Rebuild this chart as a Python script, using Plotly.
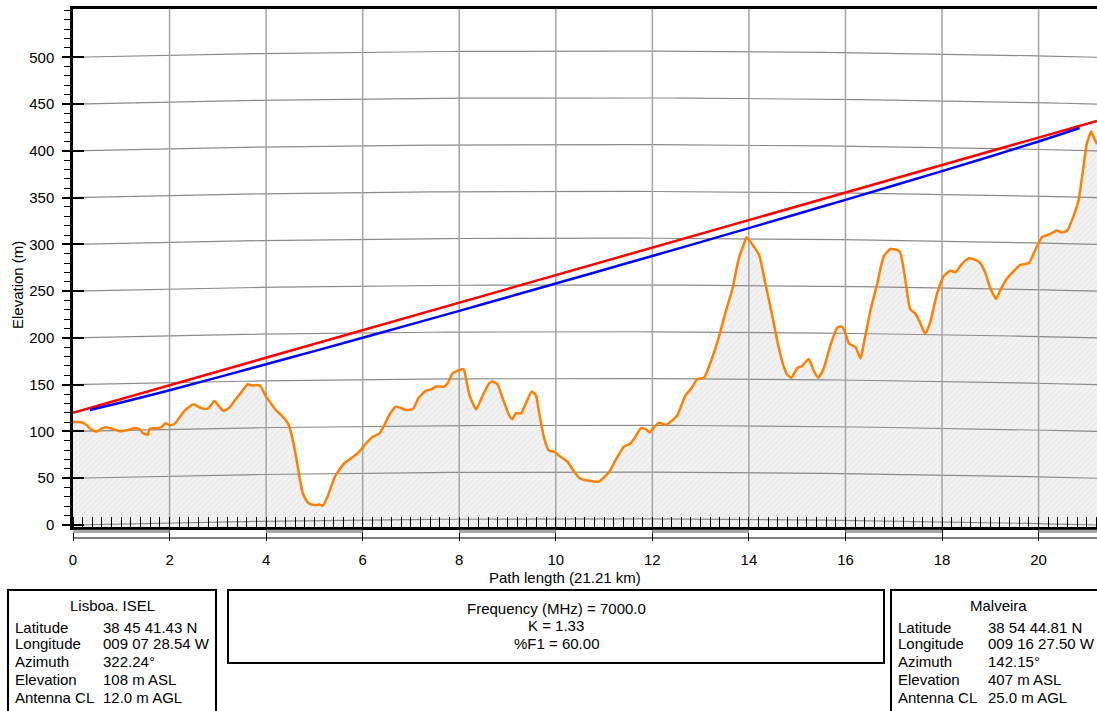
import plotly.graph_objects as go

# ---------------- data ----------------
dist_km = [0, 0.17, 0.28, 0.38, 0.49, 0.59, 0.69, 0.83, 0.97, 1.14, 1.28, 1.38, 1.45, 1.55, 1.59,
           1.73, 1.83, 1.92, 2.0, 2.10, 2.17, 2.31, 2.41, 2.50, 2.59, 2.69, 2.79, 2.86, 2.93, 3.03,
           3.12, 3.24, 3.35, 3.48, 3.62, 3.71, 3.79, 3.88, 4.0, 4.10, 4.21, 4.31, 4.45, 4.52, 4.62,
           4.69, 4.76, 4.85, 4.93, 5.03, 5.10, 5.17, 5.27, 5.41, 5.49, 5.62, 5.76, 5.93, 6.07, 6.21,
           6.35, 6.45, 6.55, 6.69, 6.80, 6.90, 7.04, 7.16, 7.31, 7.42, 7.52, 7.69, 7.76, 7.86, 7.97,
           8.07, 8.10, 8.21, 8.35, 8.49, 8.62, 8.69, 8.79, 8.90, 9.03, 9.10, 9.17, 9.28, 9.38, 9.50,
           9.59, 9.65, 9.76, 9.86, 9.96, 10.07, 10.24, 10.38, 10.48, 10.62, 10.73, 10.89, 11.10, 11.24,
           11.41, 11.55, 11.65, 11.76, 11.85, 11.95, 12.04, 12.14, 12.28, 12.38, 12.52, 12.69, 12.81,
           12.93, 13.07, 13.21, 13.35, 13.52, 13.66, 13.79, 13.90, 13.95, 14.07, 14.21, 14.34, 14.48,
           14.59, 14.69, 14.79, 14.88, 15.0, 15.10, 15.24, 15.35, 15.44, 15.55, 15.69, 15.83, 15.93,
           16.0, 16.07, 16.21, 16.31, 16.38, 16.52, 16.66, 16.79, 16.93, 17.07, 17.14, 17.24, 17.34,
           17.45, 17.55, 17.65, 17.75, 17.89, 18.03, 18.17, 18.28, 18.41, 18.55, 18.69, 18.79, 18.90,
           19.00, 19.12, 19.21, 19.35, 19.49, 19.62, 19.80, 19.93, 20.07, 20.24, 20.38, 20.48, 20.59,
           20.72, 20.83, 20.92, 21.00, 21.09, 21.15, 21.21]
terrain_m = [110, 110, 107, 102, 100, 103, 104.5, 102.7, 100.2, 101.6, 103.7, 102.3, 98, 96.6, 103,
             103.4, 104.5, 108.8, 106.6, 108, 112.3, 122.2, 126.5, 129, 126.5, 124.4, 124.4, 128.3, 132.6, 126.5,
             122, 125.5, 133, 141.5, 150.5, 149, 149.7, 148.7, 137.2, 130, 122.2, 117.6, 108.8, 98, 73,
             51.7, 33.9, 25, 22, 21.4, 22, 20.6, 30, 50, 57, 66, 71.3, 78.4, 87.4, 94.4,
             98, 107, 117.6, 126.5, 124.8, 123, 124, 136, 143.6, 145, 148, 148, 151.5, 162, 165,
             166.8, 165.8, 139, 123.7, 139, 151.5, 153.3, 150.5, 135.5, 117.6, 113, 119.4, 119.4, 130, 142.6,
             138.3, 121.2, 92.7, 79.5, 78.4, 74, 67.7, 57, 50.6, 47.8, 47, 46.3, 56.3, 69.5,
             83.7, 87.4, 94.4, 103.4, 102.7, 99, 105, 109.4, 107, 110.5, 117.6, 139, 146.2,
             156, 157.5, 174.7, 196, 228, 253, 285, 301, 307.7, 300, 288.8, 258.5, 224.6,
             196, 174.7, 161, 157.5, 167.6, 170, 177.5, 164, 157.5, 167.6, 192.5, 211, 212,
             205, 194, 190, 178, 194, 230, 258.5, 287, 295, 294, 290.6, 262, 230.7,
             225.7, 215.7, 204.3, 215.7, 246, 265.6, 271.7, 270.3, 279, 285, 283.4, 280, 269,
             253, 241.7, 251.3, 263.8, 271.7, 278, 280, 294, 307.7, 311.2, 314.8, 312.6, 314.8,
             329.7, 347.6, 379.7, 408, 420.6, 413.6, 407]

# line of sight (red) between the antennas
los_km = [0, 21.21]
los_m = [120, 432]

# 60 % first Fresnel zone clearance line (blue)
fz_km = [0.35, 1, 2, 3, 4, 5, 6, 7, 8, 9, 10, 10.6, 11, 12, 13, 14, 15, 16, 17, 18, 19, 20, 20.85]
fz_m = [122.9, 130.9, 144.1, 157.8, 171.8, 185.9, 200.1, 214.5, 228.9, 243.5, 258.1, 266.9, 272.8,
        287.6, 302.4, 317.4, 332.4, 347.6, 362.9, 378.3, 394.0, 410.0, 424.4]

path_len = 21.21
k_factor = 1.33
grid_levels = [0, 50, 100, 150, 200, 250, 300, 350, 400, 450, 500]
y_ticks = [0, 50, 100, 150, 200, 250, 300, 350, 400, 450, 500]
x_ticks = [0, 2, 4, 6, 8, 10, 12, 14, 16, 18, 20]

site_a = ["Lisboa. ISEL", ["Latitude", "Longitude", "Azimuth", "Elevation", "Antenna CL"],
          ["38 45 41.43 N", "009 07 28.54 W", "322.24°", "108 m ASL", "12.0 m AGL"]]
site_b = ["Malveira", ["Latitude", "Longitude", "Azimuth", "Elevation", "Antenna CL"],
          ["38 54 44.81 N", "009 16 27.50 W", "142.15°", "407 m ASL", "25.0 m AGL"]]
link_info = ["Frequency (MHz) = 7000.0", "K = 1.33", "%F1 = 60.00"]

# ---------------- layout geometry ----------------
FW, FH = 1097, 711
ML, MR, MT, MB = 73, 0, 9, 184
PW = FW - ML - MR
PH = FH - MT - MB
PBOT = FH - MB
YMIN, YMAX = -2.14, 551.6
FONT = "Liberation Sans, Arial, sans-serif"


def px(xp):
    return (xp - ML) / PW


def py(yp):
    return (PBOT - yp) / PH


fig = go.Figure()

# baseline for the terrain fill
fig.add_trace(go.Scatter(x=[0, path_len], y=[YMIN, YMIN], mode="lines",
                         line=dict(width=0, color="rgba(0,0,0,0)"), hoverinfo="skip", showlegend=False))
# terrain fill
fig.add_trace(go.Scatter(x=dist_km, y=terrain_m, mode="lines", line=dict(width=0, shape="spline", smoothing=0.5),
                         fill="tonexty", fillcolor="#f1f1f1",
                         fillpattern=dict(shape="/", bgcolor="#f3f3f3", fgcolor="#dcdcdc", size=4, solidity=0.3),
                         hoverinfo="skip", showlegend=False))

# curved (earth-bulge) horizontal grid lines
n = 60
gx, gy = [], []
for g in grid_levels:
    for i in range(n + 1):
        d = path_len * i / n
        gx.append(d)
        gy.append(g + d * (path_len - d) / (2 * k_factor * 6.371))
    gx.append(None)
    gy.append(None)
fig.add_trace(go.Scatter(x=gx, y=gy, mode="lines", line=dict(color="#8a8a8a", width=1.2),
                         hoverinfo="skip", showlegend=False))
# vertical grid lines
vx, vy = [], []
for t in x_ticks[1:]:
    vx += [t, t, None]
    vy += [YMIN, YMAX, None]
fig.add_trace(go.Scatter(x=vx, y=vy, mode="lines", line=dict(color="#a5a5a5", width=1.5),
                         hoverinfo="skip", showlegend=False))

fig.add_trace(go.Scatter(x=los_km, y=los_m, mode="lines", line=dict(color="#ff0000", width=2.5),
                         showlegend=False))
fig.add_trace(go.Scatter(x=fz_km, y=fz_m, mode="lines", line=dict(color="#0000ff", width=2.5, shape="spline"),
                         showlegend=False))
fig.add_trace(go.Scatter(x=dist_km, y=terrain_m, mode="lines",
                         line=dict(color="#ff8000", width=2.5, shape="spline", smoothing=0.5),
                         showlegend=False))
# dummy trace for the inner-tick axis
fig.add_trace(go.Scatter(x=[0], y=[YMIN], mode="markers", marker=dict(size=0.1, opacity=0),
                         yaxis="y2", hoverinfo="skip", showlegend=False))

shapes = []
# scale bar below the x axis
y_bar_bot = py(538)
shapes.append(dict(type="line", xref="x", yref="paper", x0=0, x1=path_len, y0=y_bar_bot, y1=y_bar_bot,
                   line=dict(color="black", width=1.2)))
for s in range(0, 22, 4):
    shapes.append(dict(type="rect", xref="x", yref="paper", x0=s, x1=min(s + 2, path_len),
                       y0=py(533), y1=py(529.8), fillcolor="#a8a8a8", line=dict(width=0)))

# info boxes
box_line = dict(color="black", width=2)
shapes.append(dict(type="rect", xref="paper", yref="paper", x0=px(8), x1=px(216), y0=py(590), y1=py(720),
                   line=box_line, fillcolor="rgba(0,0,0,0)"))
shapes.append(dict(type="rect", xref="paper", yref="paper", x0=px(228), x1=px(884), y0=py(590), y1=py(663),
                   line=box_line, fillcolor="rgba(0,0,0,0)"))
shapes.append(dict(type="rect", xref="paper", yref="paper", x0=px(891), x1=px(1110), y0=py(590), y1=py(720),
                   line=box_line, fillcolor="rgba(0,0,0,0)"))

ann = []
tf = dict(family=FONT, size=15, color="black")


def add_text(text, x, y, anchor="left", angle=0):
    ann.append(dict(text=text, xref="paper", yref="paper", x=px(x), y=py(y), xanchor=anchor,
                    yanchor="middle", showarrow=False, font=tf, textangle=angle))


rows_y = [627, 644, 661, 679, 697]
for site, cx, lx, vx0 in [(site_a, 112, 13, 101), (site_b, 998, 896, 986)]:
    add_text(site[0], cx, 605, "center")
    for lab, val, yy in zip(site[1], site[2], rows_y):
        add_text(lab, lx, yy)
        add_text(val, vx0, yy)
for t, yy in zip(link_info, [608, 625.5, 643]):
    add_text(t, 556, yy, "center")

add_text("Path length (21.21 km)", 565, 577, "center")
add_text("Elevation (m)", 17, 285, "center", angle=-90)

fig.update_layout(
    width=FW, height=FH,
    margin=dict(l=ML, r=MR, t=MT, b=MB, pad=0),
    paper_bgcolor="white", plot_bgcolor="white",
    font=tf,
    showlegend=False,
    shapes=shapes,
    annotations=ann,
    xaxis=dict(range=[0, path_len], tickmode="array", tickvals=x_ticks, ticktext=[str(t) for t in x_ticks],
               showgrid=False, zeroline=False, showline=True, linecolor="black", linewidth=2.5, mirror=True,
               ticks="outside", ticklen=11, tickwidth=1.2, tickcolor="black", ticklabelstandoff=6,
               minor=dict(ticks="inside", dtick=0.2, tick0=0, ticklen=10, tickwidth=1, tickcolor="black"),
               tickfont=tf),
    yaxis=dict(range=[YMIN, YMAX], tickmode="array", tickvals=y_ticks, ticktext=[str(t) for t in y_ticks],
               showgrid=False, zeroline=False,
               showline=True, linecolor="black", linewidth=2.5,
               ticks="outside", ticklen=8, tickwidth=2, tickcolor="black", ticklabelstandoff=5,
               minor=dict(ticks="outside", tickmode="linear", dtick=10, tick0=0, ticklen=6, tickwidth=1,
                          tickcolor="black"),
               tickfont=tf),
    yaxis2=dict(range=[YMIN, YMAX], overlaying="y", side="left", tickmode="array", tickvals=y_ticks,
                ticks="inside", ticklen=11, tickwidth=2, tickcolor="black", showticklabels=False,
                showgrid=False, zeroline=False, showline=False),
)

fig.write_html("out.html", config={"displayModeBar": False},
               post_script="document.body.style.margin='0px';document.body.style.overflow='hidden';")
